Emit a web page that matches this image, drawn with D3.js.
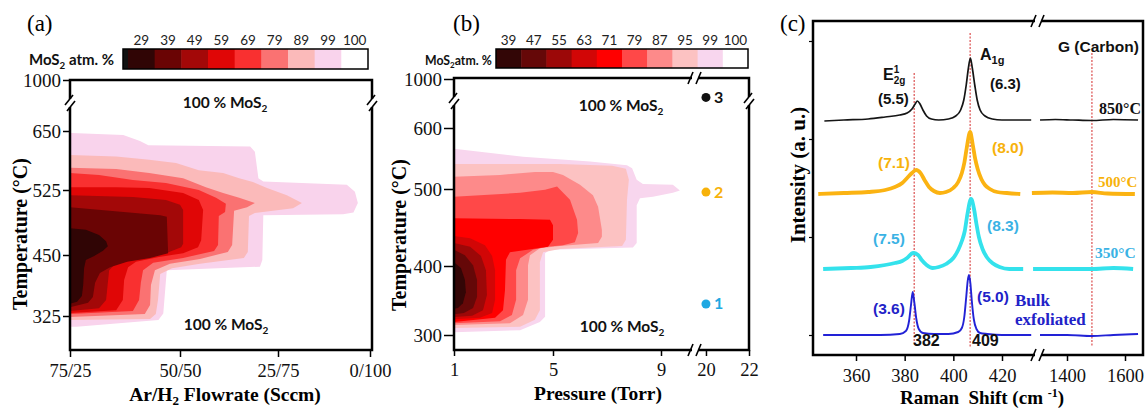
<!DOCTYPE html>
<html><head><meta charset="utf-8">
<script src="https://cdn.jsdelivr.net/npm/d3@7"></script>
<style>body{margin:0;background:#fff}svg{display:block}</style>
</head><body>
<svg id="chart" width="1145" height="412"></svg>
<script>
// ---------------- DATA ----------------
// Panel (a): Ar/H2 flow (Ar sccm) vs temperature
const flowTicks = [75, 50, 25, 0];
const flowLabels = ["75/25", "50/50", "25/75", "0/100"];
const tempTicksA = [1000, 650, 525, 450, 325];
const levelsA = [29, 39, 49, 59, 69, 79, 89, 99, 100];
const colorsA = ["#300505", "#6a0404", "#a30808", "#e00606", "#f93030", "#fa7272", "#fbbaba", "#f9d3ec", "#ffffff"];
const contA99 = [[75,646],[74.6,646],[62.9,641.5],[59.1,629],[57.2,620],[32.1,617],[30.9,606],[30.0,550],[28.75,543],[6.3,536],[4.1,523],[3.3,510],[4.5,499],[7.3,497],[28.75,496],[29.0,440],[29.6,426],[53.0,419],[53.8,330],[54.9,317],[73.5,303],[75,303]];
const contA89 = [[75,599],[64.5,596],[57.0,589],[50.9,582],[45.2,567],[39.0,561],[34.9,550],[31.4,542],[27.8,529],[22.6,519],[18.5,510],[20.9,504],[26.3,501],[30.9,498.5],[32.4,495],[32.7,453.5],[33.7,444],[44.9,432],[51.8,423],[54.5,411],[55.0,358],[55.5,329],[56.8,319],[75,317]];
const contA79 = [[75,572],[64.5,569.5],[57.0,561],[49.2,550],[43.4,531],[39.0,521.5],[34.9,516],[30.9,510],[32.9,505],[36.2,501],[36.7,461.5],[37.8,453.5],[44.9,442],[52.3,432],[55.7,419],[56.6,388.5],[56.8,347.5],[58.0,329],[75,323]];
const contA69 = [[75,561],[68.4,557],[60.7,546],[53.2,540],[45.2,525],[40.8,516],[38.3,509],[38.5,499.6],[40.1,495],[40.3,461.5],[41.3,454.6],[49.2,444],[56.1,434],[58.4,419],[58.9,393],[59.3,358],[60.7,335],[75,329]];
const contA59 = [[75,531],[64.5,531],[57.0,529],[49.2,521.5],[45.2,513.5],[44.1,502],[44.6,467],[45.4,459],[49.2,452],[54.8,446],[60.0,436],[61.8,425],[62.7,399],[63.0,358],[64.5,337],[75,331]];
const contA49 = [[75,519],[60.7,517],[53.2,513.5],[50,508],[49.2,502],[49.2,463],[49.7,459],[53.2,452],[57.7,446],[62.3,440],[64.5,434],[66.1,419],[66.4,393],[66.8,358],[68.4,341],[75,335]];
const contA39 = [[75,505],[54.5,496],[53.0,494],[52.7,452],[56.8,444],[62.0,436],[65.9,425],[68.2,413],[69.3,393],[69.8,364],[70.9,352],[75,343]];
const contA29 = [[75,481],[71.4,479],[68.4,473],[66.8,466],[66.4,460],[67.5,455],[69.5,448],[71.4,440],[71.8,423],[72.0,388.5],[72.3,366],[73.4,354],[75,350]];

// Panel (b): pressure (Torr) vs temperature
const pressTicks = [1, 5, 9, 20, 22];
const tempTicksB = [1000, 600, 500, 400, 300];
const levelsB = [39, 47, 55, 63, 71, 79, 87, 95, 99, 100];
const colorsB = ["#330606", "#650808", "#9c0808", "#d20606", "#ff0000", "#ff4848", "#fd8a8a", "#fcc2c2", "#f8d6ee", "#ffffff"];
const contB99 = [[1,566],[3.79,553],[6.37,545],[7.74,539],[7.93,534],[8.1,515],[8.33,508],[9.44,507],[9.70,498],[9.44,495],[8.70,490],[8.22,488],[8.1,479],[8.1,430],[7.96,424],[4.88,421],[4.68,416.5],[4.68,326.5],[4.47,319],[3.67,307],[1,304]];
const contB95 = [[1,541],[5.26,541],[7.19,538],[7.7,533],[7.81,515],[7.74,486],[7.7,434],[7.56,426],[5.26,422],[4.60,418],[4.47,405],[4.47,336],[4.27,322],[3.67,312],[1,310]];
const contB87 = [[1,520],[2.86,523],[4.27,528],[5.0,528],[5.37,523],[6.0,507],[6.48,492],[6.67,477],[6.81,447],[6.81,438],[6.67,430],[5.26,426],[4.47,423],[4.07,414],[3.99,401],[3.99,351],[3.79,329],[3.26,317],[1,314.5]];
const contB79 = [[1,490],[3.67,495],[4.68,499],[5.15,504],[5.63,486],[5.89,460],[5.93,443],[5.81,431],[5.37,427],[4.75,425],[4.19,421],[3.67,410],[3.51,394],[3.51,351],[3.34,329],[2.86,320],[1,317]];
const contB71 = [[1,462],[3.67,461],[4.88,460],[5.0,453],[5.0,434],[4.80,425],[3.26,418],[3.10,408],[3.06,365],[2.98,336],[2.66,325],[1,319]];
const contB63 = [[1,439],[1.65,436],[2.25,427],[2.54,413],[2.66,394],[2.66,351],[2.54,332],[2.05,325],[1,323]];
const contB55 = [[1,430],[1.65,425],[2.09,413],[2.29,394],[2.33,358],[2.17,336],[1.73,328],[1,326]];
const contB47 = [[1,421],[1.44,414],[1.77,401],[1.93,380],[1.93,355],[1.77,339],[1.40,332],[1,330]];
const contB39 = [[1,405],[1.28,397],[1.44,380],[1.48,362],[1.36,346],[1.16,339],[1,338]];
const samplePoints = [
  {p: 20, t: 850, label: "3", color: "#111111"},
  {p: 20, t: 496, label: "2", color: "#f7b20a"},
  {p: 20, t: 345, label: "1", color: "#1fa8e2"}
];

// Panel (c): Raman spectra, [shift cm-1, intensity a.u. above baseline]
const ramanTicksLow = [360, 380, 400, 420];
const ramanTicksHigh = [1400, 1600];
const spec850Low = [[347,-1],[355,0],[365,1],[372,3],[378,5],[381,7],[383,11],[384.3,16],[385.2,19],[386.3,16],[387.5,10],[389,4],[391,1],[394,0],[398,1],[401,4],[403,10],[404.3,20],[405.3,35],[406.2,52],[407,62],[407.8,52],[408.8,35],[409.8,20],[411,10],[413,4],[416,1],[420,0],[432,0]];
const spec850High = [[1307,0],[1360,0.5],[1420,0],[1486,-0.5],[1560,0.5],[1645,0]];
const spec500Low = [[344.5,-1],[355,0],[365,1],[372,3],[376,6],[379,10],[381,15],[383,20],[384.7,23],[386.5,20],[388.4,12],[390,6],[392,2],[394.5,0],[397,1],[400,5],[402,11],[403.5,20],[404.5,30],[405.5,45],[406.9,61],[408,48],[409,34],[410,24],[411.5,14],[413,8],[415,4],[418,1],[422,0],[427.5,-1]];
const spec500High = [[1279,0],[1350,0.5],[1420,0],[1486,1],[1540,-0.5],[1634,-1]];
const spec350Low = [[346.5,0],[358,1],[366,2],[372,4],[376,6],[379,8],[381,11],[383.5,16],[385.5,14],[387,9],[389,4],[391.5,1],[394,2],[397,5],[400,11],[402,19],[403.5,28],[404.7,38],[405.8,55],[407.3,70],[408.5,60],[409.5,45],[410.5,32],[412,20],[414,11],[416,6],[419,2],[423,0],[428.7,0]];
const spec350High = [[1283,0],[1380,0],[1486,0],[1560,1],[1628,0]];
const specBulkLow = [[346.5,0],[370,0],[378,1],[380.5,4],[381.8,14],[382.6,30],[383.3,43],[384,32],[384.8,16],[385.8,6],[387.5,2],[392,1],[398,1],[402,3],[403.5,7],[404.5,18],[405.3,38],[405.9,54],[406.4,60],[407,52],[407.6,34],[408.4,16],[409.5,6],[411,2],[414,1],[420,0],[432,0]];
const specBulkHigh = [[1307,0],[1400,0],[1486,-1],[1560,0],[1645,1]];
const spectrumOffsets = [235, 162, 86, 20];
const refLines = [
  {shift: 383.9, top: 282, bottom: 12, seg: "low"},
  {shift: 406.9, top: 322, bottom: 7, seg: "low"},
  {shift: 1486, top: 302, bottom: 8, seg: "high"}
];

// ---------------- DRAWING ----------------
const SERIF = "'Liberation Serif','Times New Roman',serif";
const SANS = "'Liberation Sans',Arial,sans-serif";
const CAL = "Lato,'Open Sans',sans-serif";
const fmt = d3.format("d");
const svg = d3.select("#chart");
svg.append("rect").attr("width", 1145).attr("height", 412).attr("fill", "#fff");

function styleAxis(g, size, tickW) {
  g.select(".domain").remove();
  g.selectAll(".tick line").attr("stroke", "#000").attr("stroke-width", tickW || 1.5);
  g.selectAll(".tick text").attr("font-family", SERIF).attr("font-size", size).attr("fill", "#111");
}
function breakV(g, x, y) {
  g.append("rect").attr("x", x - 3).attr("y", y - 4).attr("width", 6).attr("height", 8).attr("fill", "#fff");
  [[-5, 2, 3, -8], [-3, 8, 5, -2]].forEach(s =>
    g.append("line").attr("x1", x + s[0]).attr("y1", y + s[1]).attr("x2", x + s[2]).attr("y2", y + s[3])
      .attr("stroke", "#000").attr("stroke-width", 1.6));
}
function breakH(g, x, y) {
  g.append("rect").attr("x", x - 3).attr("y", y - 3).attr("width", 6).attr("height", 6).attr("fill", "#fff");
  [[-7, 6, -2, -6], [1, 6, 6, -6]].forEach(s =>
    g.append("line").attr("x1", x + s[0]).attr("y1", y + s[1]).attr("x2", x + s[2]).attr("y2", y + s[3])
      .attr("stroke", "#000").attr("stroke-width", 1.6));
}
function mos2(g, x, y, size, anchor, suffix) {
  const t = g.append("text").attr("x", x).attr("y", y).attr("font-family", CAL).attr("font-weight", 700)
    .attr("font-size", size).attr("text-anchor", anchor || "start").attr("fill", "#111");
  if (suffix === undefined) { t.append("tspan").text("100 % MoS"); }
  else { t.append("tspan").text("MoS"); }
  t.append("tspan").attr("font-size", size * 0.65).attr("dy", size * 0.25).text("2");
  if (suffix !== undefined) t.append("tspan").attr("dy", -size * 0.25).text(suffix);
  return t;
}
function colorbar(g, x0, x1, y, h, levels, colors, sliver) {
  const band = d3.scaleBand().domain(levels).range([x0, x1]);
  g.selectAll(null).data(levels).join("rect")
    .attr("x", d => band(d)).attr("y", y).attr("width", band.bandwidth() + 0.5).attr("height", h)
    .attr("fill", (d, i) => colors[i]);
  g.selectAll(null).data(levels).join("text")
    .attr("x", d => band(d) + band.bandwidth() / 2).attr("y", y - 4).attr("text-anchor", "middle")
    .attr("font-family", CAL).attr("font-size", 13.5).attr("fill", "#222").text(d => d);
  const left = sliver ? x0 - sliver : x0;
  if (sliver) g.append("rect").attr("x", left).attr("y", y).attr("width", sliver).attr("height", h).attr("fill", "#111");
  g.append("rect").attr("x", left).attr("y", y).attr("width", x1 - left).attr("height", h)
    .attr("fill", "none").attr("stroke", "#000").attr("stroke-width", 1.5);
}
const areaLine = (xs, ys) => d3.line().x(d => xs(d[0])).y(d => ys(d[1])).curve(d3.curveLinearClosed);

// ===== Panel (a) =====
const xA = d3.scaleLinear().domain([75, 50, 25, 0]).range([70, 180, 278, 370]);
const yA = d3.scaleLinear().domain([325, 450, 525, 650, 1000]).range([316, 255, 190, 131, 80]);
const gA = svg.append("g");
gA.append("text").attr("x", 27).attr("y", 31).attr("font-family", SERIF).attr("font-size", 23).text("(a)");
mos2(gA, 29, 65, 15, "start", " atm. %");
colorbar(gA, 128, 368, 49, 20, levelsA, colorsA, 5);
svg.append("clipPath").attr("id", "clipA").append("rect").attr("x", 70).attr("y", 80).attr("width", 302).attr("height", 270);
const cA = gA.append("g").attr("clip-path", "url(#clipA)");
[contA99, contA89, contA79, contA69, contA59, contA49, contA39, contA29].forEach((pts, i) =>
  cA.append("path").attr("d", areaLine(xA, yA)(pts)).attr("fill", colorsA[7 - i]));
gA.append("rect").attr("x", 70).attr("y", 80).attr("width", 302).attr("height", 270)
  .attr("fill", "none").attr("stroke", "#000").attr("stroke-width", 2.5);
const axA = gA.append("g").attr("transform", "translate(0,350)")
  .call(d3.axisBottom(xA).tickValues(flowTicks).tickFormat((d, i) => flowLabels[i]).tickSize(7).tickSizeOuter(0));
styleAxis(axA, 18.5);
axA.selectAll(".tick text").attr("y", 27).attr("dy", 0);
const ayA = gA.append("g").attr("transform", "translate(70,0)")
  .call(d3.axisLeft(yA).tickValues(tempTicksA).tickFormat(fmt).tickSize(7).tickPadding(2).tickSizeOuter(0));
styleAxis(ayA, 19);
breakV(gA, 70, 103); breakV(gA, 372, 103);
mos2(gA, 225, 108, 15.5, "middle");
mos2(gA, 226, 330, 15.5, "middle");
const tA = gA.append("text").attr("x", 225).attr("y", 401).attr("text-anchor", "middle")
  .attr("font-family", SERIF).attr("font-weight", 700).attr("font-size", 19.5).text("Ar/H");
tA.append("tspan").attr("font-size", 13).attr("dy", 4).text("2");
tA.append("tspan").attr("dy", -4).text(" Flowrate (Sccm)");
gA.append("text").attr("transform", "translate(27,234) rotate(-90)").attr("text-anchor", "middle")
  .attr("font-family", SERIF).attr("font-weight", 700).attr("font-size", 20).text("Temperature (\u00B0C)");

// ===== Panel (b) =====
const xB = d3.scaleLinear().domain([1, 5, 9, 10.26, 19.49, 22]).range([454, 553, 661, 695, 695, 749]);
const yB = d3.scaleLinear().domain([300, 400, 500, 600, 1000]).range([335, 266, 189, 128, 79]);
const gB = svg.append("g");
gB.append("text").attr("x", 453).attr("y", 31).attr("font-family", SERIF).attr("font-size", 23).text("(b)");
mos2(gB, 425, 65, 12.3, "start", "atm. %");
colorbar(gB, 496, 748, 49, 19, levelsB, colorsB, 0);
svg.append("clipPath").attr("id", "clipB").append("rect").attr("x", 454).attr("y", 78).attr("width", 295).attr("height", 272);
const cB = gB.append("g").attr("clip-path", "url(#clipB)");
[contB99, contB95, contB87, contB79, contB71, contB63, contB55, contB47, contB39].forEach((pts, i) =>
  cB.append("path").attr("d", areaLine(xB, yB)(pts)).attr("fill", colorsB[8 - i]));
gB.append("rect").attr("x", 454).attr("y", 78).attr("width", 295).attr("height", 272)
  .attr("fill", "none").attr("stroke", "#000").attr("stroke-width", 2.5);
const axB = gB.append("g").attr("transform", "translate(0,350)")
  .call(d3.axisBottom(xB).tickValues(pressTicks).tickFormat(fmt).tickSize(6).tickSizeOuter(0));
styleAxis(axB, 18.5);
axB.selectAll(".tick text").attr("y", 26).attr("dy", 0);
const ayB = gB.append("g").attr("transform", "translate(454,0)")
  .call(d3.axisLeft(yB).tickValues(tempTicksB).tickFormat(fmt).tickSize(10).tickPadding(2).tickSizeOuter(0));
styleAxis(ayB, 19);
breakV(gB, 454, 101); breakV(gB, 749, 101); breakH(gB, 695, 78); breakH(gB, 695, 350);
mos2(gB, 621, 111, 15.5, "middle");
mos2(gB, 622, 332, 15.5, "middle");
gB.selectAll(null).data(samplePoints).join("circle")
  .attr("cx", d => xB(d.p)).attr("cy", d => yB(d.t)).attr("r", 4.5).attr("fill", d => d.color);
gB.selectAll(null).data(samplePoints).join("text")
  .attr("x", d => xB(d.p) + 8).attr("y", d => yB(d.t) + 5.5).attr("font-family", CAL).attr("font-weight", 700)
  .attr("font-size", 16).attr("fill", d => d.color).text(d => d.label);
gB.append("text").attr("x", 598).attr("y", 400).attr("text-anchor", "middle")
  .attr("font-family", SERIF).attr("font-weight", 700).attr("font-size", 19.5).text("Pressure (Torr)");
gB.append("text").attr("transform", "translate(406,235) rotate(-90)").attr("text-anchor", "middle")
  .attr("font-family", SERIF).attr("font-weight", 700).attr("font-size", 20).text("Temperature (\u00B0C)");

// ===== Panel (c) =====
const xLow = d3.scaleLinear().domain([360, 420]).range([856, 1002]);
const xHigh = d3.scaleLinear().domain([1400, 1600]).range([1067, 1125]);
const yC = d3.scaleLinear().domain([0, 334]).range([355, 21]);
const gC = svg.append("g");
gC.append("text").attr("x", 780).attr("y", 31).attr("font-family", SERIF).attr("font-size", 23).text("(c)");
refLines.forEach(r => {
  const xs = r.seg === "low" ? xLow : xHigh;
  gC.append("line").attr("x1", xs(r.shift)).attr("x2", xs(r.shift)).attr("y1", yC(r.top)).attr("y2", yC(r.bottom))
    .attr("stroke", "#d42a2a").attr("stroke-width", 1).attr("stroke-dasharray", "2,1.5");
});
const spectra = [
  {low: spec850Low, high: spec850High, color: "#151515", w: 1.7},
  {low: spec500Low, high: spec500High, color: "#fbb312", w: 3.8},
  {low: spec350Low, high: spec350High, color: "#34e2ec", w: 3.8},
  {low: specBulkLow, high: specBulkHigh, color: "#2222d6", w: 1.9}
];
spectra.forEach((s, i) => {
  const off = spectrumOffsets[i];
  [[s.low, xLow], [s.high, xHigh]].forEach(([pts, xs]) => {
    gC.append("path").attr("d", d3.line().x(d => xs(d[0])).y(d => yC(off + d[1])).curve(d3.curveMonotoneX)(pts))
      .attr("fill", "none").attr("stroke", s.color).attr("stroke-width", s.w).attr("stroke-linejoin", "round");
  });
});
gC.append("rect").attr("x", 813).attr("y", 21).attr("width", 330).attr("height", 334)
  .attr("fill", "none").attr("stroke", "#000").attr("stroke-width", 2.5);
const axCl = gC.append("g").attr("transform", "translate(0,355)")
  .call(d3.axisBottom(xLow).tickValues(ramanTicksLow).tickFormat(fmt).tickSize(6).tickSizeOuter(0));
styleAxis(axCl, 18.5);
axCl.selectAll(".tick text").attr("y", 27).attr("dy", 0);
const axCh = gC.append("g").attr("transform", "translate(0,355)")
  .call(d3.axisBottom(xHigh).tickValues(ramanTicksHigh).tickFormat(fmt).tickSize(6).tickSizeOuter(0));
styleAxis(axCh, 18.5);
axCh.selectAll(".tick text").attr("y", 27).attr("dy", 0);
const ayC = gC.append("g").attr("transform", "translate(813,0)")
  .call(d3.axisLeft(yC).tickValues([20, 118, 216, 314]).tickFormat("").tickSize(4).tickSizeOuter(0));
styleAxis(ayC, 10, 1.2);
breakH(gC, 1038, 21); breakH(gC, 1038, 355);

function lab(x, y, s, color, size, fam, weight) {
  return gC.append("text").attr("x", x).attr("y", y).attr("fill", color).attr("font-size", size)
    .attr("font-family", fam || SANS).attr("font-weight", weight || 700).text(s);
}
const e = lab(883, 80, "E", "#111", 16);
e.append("tspan").attr("font-size", 10).attr("dy", -7).text("1");
e.append("tspan").attr("font-size", 10).attr("dx", -5.5).attr("dy", 11).text("2g");
const a = lab(980, 60, "A", "#111", 16);
a.append("tspan").attr("font-size", 11).attr("dy", 4).text("1g");
lab(1058, 52, "G (Carbon)", "#111", 15.5);
lab(878, 104, "(5.5)", "#111", 15);
lab(990, 89, "(6.3)", "#111", 15);
lab(1099, 114, "850\u00B0C", "#111", 16, SERIF);
lab(878, 168, "(7.1)", "#f7b20a", 15.5);
lab(992, 153, "(8.0)", "#f7b20a", 15.5);
lab(1098, 187, "500\u00B0C", "#f7b20a", 15, SERIF);
lab(873, 244, "(7.5)", "#3ab2e4", 15.5);
lab(987, 231, "(8.3)", "#3ab2e4", 15.5);
lab(1095, 258, "350\u00B0C", "#3ab2e4", 15.5, SERIF);
lab(873, 314, "(3.6)", "#2222c8", 15.5);
lab(977, 302, "(5.0)", "#2222c8", 15.5);
lab(1015, 306, "Bulk", "#2222c8", 17, SERIF);
lab(1015, 325, "exfoliated", "#2222c8", 17, SERIF);
lab(913, 346, "382", "#111", 16);
lab(972, 346, "409", "#111", 16);
const xt = gC.append("text").attr("x", 982).attr("y", 404).attr("text-anchor", "middle")
  .attr("font-family", SERIF).attr("font-weight", 700).attr("font-size", 19).style("white-space", "pre")
  .text("Raman  Shift (cm ");
xt.append("tspan").attr("font-size", 12).attr("dy", -7).text("-1");
xt.append("tspan").attr("dy", 7).text(")");
gC.append("text").attr("transform", "translate(805,175) rotate(-90)").attr("text-anchor", "middle")
  .attr("font-family", SERIF).attr("font-weight", 700).attr("font-size", 21).text("Intensity (a. u.)");
</script></body></html>
